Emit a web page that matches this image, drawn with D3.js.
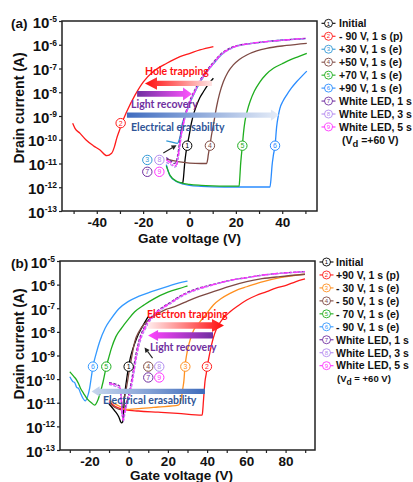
<!DOCTYPE html>
<html><head><meta charset="utf-8">
<script src="https://cdn.jsdelivr.net/npm/d3@7"></script>
<style>
body{margin:0;background:#fff;}
svg{display:block;}
</style></head><body>
<svg id="c" width="413" height="482"></svg>
<script>
// ---------------- DATA ----------------
const yTicks = [1e-13,1e-12,1e-11,1e-10,1e-9,1e-8,1e-7,1e-6,1e-5];
const aXTicks = [-50,-40,-30,-20,-10,0,10,20,30,40,50];
const aXLabels = [-40,-20,0,20,40];
const bXTicks = [-30,-20,-10,0,10,20,30,40,50,60,70,80,90];
const bXLabels = [-20,0,20,40,60,80];

// Panel (a): gate voltage (V) and log10 of drain current (A)
const aVg1 = [-3.6,-3.0,-2.6,-2.3,-2.0,-1.6,-1.0,-0.3,0.95,2.0,3.1,4.5,6.0,8.0,10.3];
const aLog1 = [-11.8,-11.85,-11.6,-11.25,-10.92,-10.6,-10.25,-9.9,-9.24,-8.85,-8.54,-8.22,-7.98,-7.68,-7.41];
const aVg2 = [-50.4,-49.4,-47.2,-44.6,-41.5,-38.6,-35.7,-33.6,-32.4,-31.4,-30.2,-29.2,-27.1,-23.5,-19.9,-15.6,-9.8,-4.1,0.2,4.5,10.3];
const aLog2 = [-9.31,-9.52,-9.73,-10.01,-10.25,-10.43,-10.67,-10.57,-10.3,-9.94,-9.6,-9.31,-8.82,-8.12,-7.56,-7.13,-6.78,-6.50,-6.36,-6.22,-6.08];
const aVg3 = [-10,-7.5,-5.2,-4.6,-4.0,-3.3,-2.4,-1.0,0.4,1.8,3.2,4.7,7.6,10.5,13.4,19,26,33,41,50];
const aLog3 = [-10.05,-10.1,-10.15,-10.05,-9.85,-9.4,-9.1,-8.75,-8.4,-8.1,-7.82,-7.55,-7.13,-6.78,-6.45,-6.1,-5.95,-5.87,-5.8,-5.74];
const aVg4 = [-10,-5,0,5,7.4,7.8,8.1,8.8,9.5,10.3,11.7,13.0,14.6,16.5,18.9,21.5,24.7,29,33.3,41.9,50.6];
const aLog4 = [-10.82,-10.92,-10.98,-11.0,-11.0,-10.85,-10.64,-10.25,-9.8,-9.38,-8.6,-8.05,-7.56,-7.17,-6.85,-6.62,-6.43,-6.26,-6.15,-6.03,-5.94];
const aVg5 = [-10,-8.4,-5.5,0,5,10,15,21.4,21.7,22.0,22.4,22.8,23.3,23.9,25.0,26.1,28.0,30.4,33.0,36.2,40.0,43.4,47.0,50.6];
const aLog5 = [-11.1,-11.5,-11.75,-11.88,-11.92,-11.94,-11.95,-11.95,-11.6,-11.1,-10.64,-10.25,-9.7,-9.24,-8.75,-8.4,-7.95,-7.56,-7.25,-6.99,-6.8,-6.64,-6.5,-6.36];
const aVg6 = [-10,-8.4,-5.5,0,5,10,20,30,34.7,35.2,35.6,36.2,36.9,37.6,38.3,39.0,40.3,41.9,44.0,46.2,48.5,50.6];
const aLog6 = [-11.05,-11.52,-11.77,-11.92,-11.96,-11.98,-11.99,-11.99,-11.99,-11.6,-11.1,-10.64,-10.25,-9.45,-9.0,-8.68,-8.38,-8.12,-7.82,-7.56,-7.32,-7.11];
const aVg7 = [-10,-8,-6.6,-5.8,-5.2,-4.7,-4.3,-3.6,-2.9,-1.4,0,1.4,2.8,4.3,7.2,10.1,13,18.7,26,33,41,50];
const aLog7 = [-10.75,-10.9,-11.0,-10.95,-10.7,-10.4,-10.1,-9.68,-9.33,-8.78,-8.38,-8.08,-7.8,-7.53,-7.11,-6.76,-6.44,-6.09,-5.95,-5.87,-5.8,-5.73];
const aVg8 = [-10,-8,-6.4,-5.5,-4.9,-4.4,-4.0,-3.3,-2.6,-1.1,0.3,1.7,3.1,4.6,7.5,10.4,13.3,19,26,33,41,50];
const aLog8 = [-10.95,-11.05,-11.15,-11.1,-10.8,-10.5,-10.2,-9.72,-9.37,-8.82,-8.42,-8.12,-7.84,-7.57,-7.15,-6.8,-6.47,-6.12,-5.96,-5.88,-5.81,-5.74];
const aVg9 = [-10,-8,-6.5,-5.6,-5.0,-4.5,-4.1,-3.4,-2.7,-1.2,0.2,1.6,3.0,4.5,7.4,10.3,13.2,18.9,26,33,41,50];
const aLog9 = [-10.85,-10.98,-11.1,-11.05,-10.75,-10.45,-10.15,-9.7,-9.35,-8.8,-8.4,-8.1,-7.82,-7.55,-7.13,-6.78,-6.45,-6.1,-5.95,-5.87,-5.8,-5.73];

// Panel (b)
const bVg1 = [-10,-7,-5,-3.7,-3.0,-2.5,-2.0,-1.2,0,1.0,2.2,3.5,4.8,6.5,8.2,9.9];
const bLog1 = [-11.05,-11.35,-11.6,-11.85,-11.8,-11.25,-10.67,-10.11,-9.47,-9.05,-8.70,-8.4,-8.13,-7.85,-7.6,-7.36];
const bVg2 = [-10,-7,-4,-1.5,5,15,25,37.5,37.8,38.1,38.5,38.9,39.5,40.1,41.5,43.0,44.9,48.0,51.7,56.0,60.2,65.0,70.4,75.0,80.6,85.0,89.9];
const bLog2 = [-10.95,-11.15,-11.25,-11.3,-11.35,-11.4,-11.45,-11.52,-11.3,-10.96,-10.5,-10.11,-9.8,-9.47,-8.84,-8.3,-7.85,-7.45,-7.15,-6.88,-6.65,-6.46,-6.30,-6.15,-6.02,-5.88,-5.76];
const bVg3 = [-10,-7,-4,-1.9,5,15,25.3,26.2,27.0,27.6,28.2,28.7,29.5,30.4,31.5,33.0,34.7,36.4,40.0,43.2,47.0,51.7,56.0,60.2,68.6,77.2,89.9];
const bLog3 = [-10.9,-11.05,-11.18,-11.28,-11.25,-11.18,-11.1,-11.0,-10.74,-10.4,-10.04,-9.47,-9.0,-8.63,-8.3,-7.95,-7.75,-7.57,-7.2,-6.86,-6.6,-6.37,-6.2,-6.09,-5.87,-5.70,-5.56];
const bVg4 = [-10,-7,-3.7,-2.5,-1.2,0.5,1.8,3.1,5.5,8.2,11.5,15,19,23.5,26.2,30,36,43.2,51,60.2,68,77.2,89.9];
const bLog4 = [-11.0,-11.2,-11.3,-10.9,-10.39,-9.54,-8.95,-8.42,-7.95,-7.65,-7.4,-7.22,-7.05,-6.93,-6.84,-6.7,-6.5,-6.3,-6.08,-5.87,-5.75,-5.66,-5.56];
const bVg5 = [-30,-28,-26.5,-25.5,-24.5,-23,-21,-19,-17.3,-16,-14.8,-13,-11.4,-10,-8.8,-6.5,-3.7,0,3.1,8,13.3,20,28.6,30];
const bLog5 = [-9.69,-9.88,-10.04,-10.2,-10.4,-10.6,-10.85,-11.0,-11.1,-10.95,-10.67,-10.1,-9.47,-9.05,-8.70,-8.2,-7.85,-7.45,-7.15,-6.85,-6.58,-6.32,-6.09,-6.05];
const bVg6 = [-30,-28.5,-27.5,-26.5,-25.5,-24.5,-23.3,-22.1,-21,-19.9,-19,-18.2,-16.5,-14.8,-12,-8.8,-5,-0.3,5,11.6,20,28.6,30];
const bLog6 = [-9.90,-10.1,-10.15,-10.35,-10.4,-10.6,-10.81,-10.92,-10.75,-10.39,-9.9,-9.47,-8.9,-8.42,-7.85,-7.43,-7.02,-6.72,-6.5,-6.30,-6.07,-5.87,-5.85];
const bVg7 = [-10,-7,-4.5,-3.9,-3.4,-2.9,-2.3,-1.3,0.3,2.0,3.7,5.0,6.3,8.3,10.5,12.8,14.8,17.8,21.6,25.8,29.8,34.5,43,51,60.2,68,77.2,89.9];
const bLog7 = [-10.15,-10.2,-10.3,-10.7,-11.4,-11.65,-11.45,-11.05,-10.55,-9.8,-8.95,-8.45,-8.1,-7.75,-7.47,-7.27,-7.1,-6.93,-6.73,-6.5,-6.33,-6.18,-5.99,-5.83,-5.70,-5.6,-5.52,-5.45];
const bVg8 = [-10,-7,-4.4,-3.7,-3.2,-2.7,-2.1,-1.1,0.7,2.4,4.1,5.4,6.7,8.7,10.9,13.2,15.2,18.2,22,26.2,30.2,34.9,43.4,51,60.2,68,77.2,89.9];
const bLog8 = [-10.22,-10.3,-10.4,-10.85,-11.55,-11.8,-11.55,-11.15,-10.65,-9.9,-9.05,-8.55,-8.2,-7.85,-7.53,-7.33,-7.15,-6.97,-6.77,-6.54,-6.37,-6.22,-6.01,-5.84,-5.71,-5.61,-5.53,-5.46];
const bVg9 = [-10,-7,-4.5,-3.8,-3.3,-2.8,-2.2,-1.2,0.5,2.2,3.9,5.2,6.5,8.5,10.7,13,15,18,21.8,26,30,34.7,43.2,51,60.2,68,77.2,89.9];
const bLog9 = [-10.18,-10.25,-10.35,-10.8,-11.5,-11.75,-11.5,-11.1,-10.6,-9.85,-9.0,-8.5,-8.15,-7.8,-7.5,-7.3,-7.12,-6.95,-6.75,-6.52,-6.35,-6.2,-6.0,-5.83,-5.70,-5.6,-5.52,-5.45];

const aLegend = ["Initial","- 90 V, 1 s (p)","+30 V, 1 s (e)","+50 V, 1 s (e)","+70 V, 1 s (e)","+90 V, 1 s (e)","White LED, 1 s","White LED, 3 s","White LED, 5 s"];
const bLegend = ["Initial","+90 V, 1 s (p)","- 30 V, 1 s (e)","- 50 V, 1 s (e)","- 70 V, 1 s (e)","- 90 V, 1 s (e)","White LED, 1 s","White LED, 3 s","White LED, 5 s"];

// numbered circle labels on the curves
const aMarkN = [2,1,4,5,6,3,8,7,9];
const aMarkVg = [-29.7,-1.0,8.8,22.8,36.9,-18.2,-13.0,-18.2,-13.0];
const aMarkLog = [-9.3,-10.25,-10.25,-10.25,-10.25,-10.85,-10.85,-11.35,-11.35];
const bMarkN = [6,5,1,4,8,3,2,7,9];
const bMarkVg = [-18.2,-11.4,0.0,10.0,15.6,28.9,39.9,10.0,15.6];
const bMarkLog = [-9.47,-9.47,-9.47,-9.47,-9.47,-9.47,-9.47,-9.93,-9.93];

// annotations (data coordinates)
const aNotes = ["Hole trapping","Light recovery","Electrical erasability"];
const aNoteVg = [-19.2,-25.2,-25.2];
const aNoteLog = [-7.27,-8.68,-9.65];
const bNotes = ["Electron trapping","Light recovery","Electrical erasability"];
const bNoteVg = [9.35,10.9,-13.1];
const bNoteLog = [-7.43,-8.79,-11.07];
// arrows: tail Vg, tip Vg, log current
const aArrowTail = [9.7,-22.6,-27.0];
const aArrowTip = [-19.2,1.1,38.6];
const aArrowLog = [-7.63,-8.07,-8.96];
const bArrowTail = [9.9,43.0,38.9];
const bArrowTip = [48.6,9.9,-18.9];
const bArrowLog = [-7.73,-8.15,-10.52];
const aPointer = [[-11.3,-10.56],[-5.6,-10.23]];
const bPointer = [[12.2,-9.11],[8.1,-8.66]];

// ---------------- DRAWING ----------------
const FONT = "'Liberation Sans', Arial, Helvetica, sans-serif";
const NOTEFONT = "Lato, 'Open Sans', sans-serif";
const colA = {1:"#000000",2:"#ff1a1a",3:"#3399d6",4:"#7e4a44",5:"#1fae1f",6:"#2a8cff",7:"#7030a0",8:"#b38bef",9:"#ff33ff"};
const colB = Object.assign({}, colA, {3:"#ff9020",6:"#3399ff"});
const dashes = {7:"3,1.5",8:"3,1.5",9:"6,1.5,1.5,1.5"};

const svg = d3.select("#c");
const defs = svg.append("defs");
function gradient(id, c0, c1) {
  const g = defs.append("linearGradient").attr("id", id)
    .attr("x1","0").attr("x2","1").attr("y1","0").attr("y2","0");
  g.append("stop").attr("offset","0").attr("stop-color",c0);
  g.append("stop").attr("offset","1").attr("stop-color",c1);
}
gradient("ga0","#ff0d0d","#ffe4e4");
gradient("ga1","#7030a0","#ff55ff");
gradient("ga2","#3f6cc0","#e6edf8");
gradient("gb0","#ffecec","#ff0d0d");
gradient("gb1","#ff44ff","#7030a0");
gradient("gb2","#c8d7ee","#3f6cbc");

function drawPanel(p) {
  const x = d3.scaleLinear().domain(p.xDomain).range([p.L, p.R]);
  const y = d3.scaleLog().domain([1e-13, 1e-5]).range([p.B, p.T]);
  const g = svg.append("g");
  defs.append("clipPath").attr("id","clip"+p.id).append("rect")
    .attr("x",p.L).attr("y",p.T).attr("width",p.R-p.L).attr("height",p.B-p.T);

  // curves
  const line = d3.line().x(d => x(d[0])).y(d => y(d[1])).curve(d3.curveMonotoneX);
  const cg = g.append("g").attr("clip-path","url(#clip"+p.id+")");
  p.curves.forEach(c => {
    const pts = d3.zip(c.vg, c.log.map(v => Math.pow(10, v)));
    cg.append("path").attr("d", line(pts)).attr("fill","none")
      .attr("stroke", p.col[c.n]).attr("stroke-width", 1.3)
      .attr("stroke-dasharray", dashes[c.n] || null)
      .attr("stroke-linejoin","round");
  });

  // arrows
  p.arrows.forEach((a, i) => {
    const x0 = x(a.tail), x1 = x(a.tip), yc = y(Math.pow(10, a.log));
    const dir = Math.sign(x1 - x0), h = a.h, H = a.H, L = a.L;
    const pts = [[x0,yc-h],[x1-dir*L,yc-h],[x1-dir*L,yc-H],[x1,yc],[x1-dir*L,yc+H],[x1-dir*L,yc+h],[x0,yc+h]];
    g.append("path").attr("d", "M" + pts.map(q => q.join(",")).join("L") + "Z")
      .attr("fill", "url(#" + a.grad + ")");
  });
  // notes
  p.notes.forEach(nt => {
    g.append("text").attr("x", x(nt.vg)).attr("y", y(Math.pow(10, nt.log)))
      .attr("font-family", NOTEFONT).attr("font-weight", 700).attr("font-size", 10.5)
      .attr("fill", nt.color).text(nt.text);
  });
  // pointer arrow
  {
    const [s, e] = p.pointer;
    const xs = x(s[0]), ys = y(Math.pow(10, s[1])), xe = x(e[0]), ye = y(Math.pow(10, e[1]));
    const ang = Math.atan2(ye - ys, xe - xs), hl = 5, hw = 2.6;
    const bx = xe - hl * Math.cos(ang), by = ye - hl * Math.sin(ang);
    g.append("line").attr("x1", xs).attr("y1", ys).attr("x2", bx).attr("y2", by)
      .attr("stroke", "#222").attr("stroke-width", 1.1);
    const px = -Math.sin(ang), py = Math.cos(ang);
    g.append("path").attr("d", `M${xe},${ye}L${bx+px*hw},${by+py*hw}L${bx-px*hw},${by-py*hw}Z`).attr("fill", "#222");
  }
  // numbered circles
  p.marks.forEach(m => {
    const cx = x(m.vg), cy = y(Math.pow(10, m.log));
    g.append("circle").attr("cx", cx).attr("cy", cy).attr("r", 4.7)
      .attr("fill", "#fff").attr("stroke", p.col[m.n]).attr("stroke-width", 1);
    g.append("text").attr("x", cx).attr("y", cy + 2.5).attr("text-anchor", "middle")
      .attr("font-family", FONT).attr("font-size", 7).attr("fill", p.col[m.n]).text(m.n);
  });

  // frame
  g.append("rect").attr("x", p.L).attr("y", p.T).attr("width", p.R - p.L).attr("height", p.B - p.T)
    .attr("fill", "none").attr("stroke", "#222").attr("stroke-width", 1.5);

  // x axis
  const xa = g.append("g").attr("transform", `translate(0,${p.B})`)
    .call(d3.axisBottom(x).tickValues(p.xTicks).tickSize(3).tickPadding(3)
      .tickFormat(d => p.xLabels.includes(d) ? (d < 0 ? "-" + Math.abs(d) : String(d)) : ""));
  xa.select(".domain").remove();
  xa.attr("font-family", FONT).attr("font-size", 13.5).attr("font-weight", "bold");
  xa.selectAll("line").attr("stroke", "#222").attr("stroke-width", 1.2);
  xa.selectAll("text").attr("fill", "#111");

  // y axis
  const ya = g.append("g").attr("transform", `translate(${p.L},0)`)
    .call(d3.axisLeft(y).tickValues(yTicks).tickSize(3).tickFormat(""));
  ya.select(".domain").remove();
  ya.selectAll("line").attr("stroke", "#222").attr("stroke-width", 1.2);
  yTicks.forEach(t => {
    const e = Math.round(Math.log10(t));
    const tx = g.append("text").attr("x", p.L - 5).attr("y", y(t) + 6.5)
      .attr("text-anchor", "end").attr("font-family", FONT).attr("font-weight", "bold").attr("fill", "#111");
    tx.append("tspan").attr("font-size", 15).text("10");
    tx.append("tspan").attr("font-size", 8.5).attr("dy", -5.5).text(String(e));
  });

  // titles
  g.append("text").attr("transform", `translate(${p.yTitleX},${p.yTitleY}) rotate(-90)`)
    .attr("text-anchor", "middle").attr("font-family", FONT).attr("font-weight", "bold")
    .attr("font-size", 14).attr("fill", "#111").text("Drain current (A)");
  g.append("text").attr("x", p.xTitleX).attr("y", p.xTitleY).attr("text-anchor", "middle")
    .attr("font-family", FONT).attr("font-weight", "bold").attr("font-size", 13.5)
    .attr("fill", "#111").text("Gate voltage (V)");
  g.append("text").attr("x", 11).attr("y", p.T + 6.5).attr("font-family", FONT)
    .attr("font-weight", "bold").attr("font-size", 13.5).attr("fill", "#111").text(p.tag);

  // legend
  p.legend.forEach((lab, i) => {
    const n = i + 1, cy = p.legY + i * 12.96, lx = p.legX;
    g.append("line").attr("x1", lx).attr("x2", lx + 14).attr("y1", cy).attr("y2", cy)
      .attr("stroke", p.col[n]).attr("stroke-width", 1.1);
    g.append("circle").attr("cx", lx + 7).attr("cy", cy).attr("r", 4)
      .attr("fill", "#fff").attr("stroke", p.col[n]).attr("stroke-width", 0.9);
    g.append("text").attr("x", lx + 7).attr("y", cy + 2.2).attr("text-anchor", "middle")
      .attr("font-family", FONT).attr("font-size", 6).attr("fill", p.col[n]).text(n);
    g.append("text").attr("x", p.legTextX).attr("y", cy + 3.8).attr("font-family", FONT)
      .attr("font-weight", "bold").attr("font-size", 10.5).attr("fill", "#111").text(lab);
  });
  const vy = p.legY + 9 * 12.96 + 3.8;
  const vt = g.append("text").attr("x", p.legTextX + p.vdDx).attr("y", vy).attr("font-family", FONT)
    .attr("font-weight", "bold").attr("font-size", p.vdSize).attr("fill", "#111");
  vt.append("tspan").text("(V");
  vt.append("tspan").attr("dy", 3).attr("font-size", p.vdSize * 0.9).text("d");
  vt.append("tspan").attr("dy", -3).text(p.vdText);
}

drawPanel({
  id: "a", tag: "(a)", L: 62, R: 317, T: 21, B: 211, xDomain: [-55, 55],
  xTicks: aXTicks, xLabels: aXLabels, col: colA,
  yTitleX: 23.5, yTitleY: 108, xTitleX: 189.5, xTitleY: 242.5,
  curves: [
    {n:2, vg:aVg2, log:aLog2}, {n:1, vg:aVg1, log:aLog1}, {n:4, vg:aVg4, log:aLog4},
    {n:6, vg:aVg6, log:aLog6}, {n:5, vg:aVg5, log:aLog5}, {n:3, vg:aVg3, log:aLog3},
    {n:7, vg:aVg7, log:aLog7}, {n:8, vg:aVg8, log:aLog8}, {n:9, vg:aVg9, log:aLog9}
  ],
  arrows: [
    {tail:aArrowTail[0], tip:aArrowTip[0], log:aArrowLog[0], h:2.6, H:6.2, L:12, grad:"ga0"},
    {tail:aArrowTail[1], tip:aArrowTip[1], log:aArrowLog[1], h:2.8, H:6.5, L:9, grad:"ga1"},
    {tail:aArrowTail[2], tip:aArrowTip[2], log:aArrowLog[2], h:2.6, H:5.6, L:8, grad:"ga2"}
  ],
  notes: [
    {text:aNotes[0], vg:aNoteVg[0], log:aNoteLog[0], color:"#ff1010"},
    {text:aNotes[1], vg:aNoteVg[1], log:aNoteLog[1], color:"#7030a0"},
    {text:aNotes[2], vg:aNoteVg[2], log:aNoteLog[2], color:"#2f5597"}
  ],
  pointer: aPointer,
  marks: aMarkN.map((n, i) => ({n, vg: aMarkVg[i], log: aMarkLog[i]})),
  legend: aLegend, legX: 321.5, legY: 23.3, legTextX: 339, vdDx: 3, vdSize: 10.5, vdText: " =+60 V)"
});

drawPanel({
  id: "b", tag: "(b)", L: 60, R: 315, T: 261, B: 450, xDomain: [-35, 95],
  xTicks: bXTicks, xLabels: bXLabels, col: colB,
  yTitleX: 23.5, yTitleY: 344, xTitleX: 181.5, xTitleY: 480,
  curves: [
    {n:6, vg:bVg6, log:bLog6}, {n:5, vg:bVg5, log:bLog5}, {n:1, vg:bVg1, log:bLog1},
    {n:2, vg:bVg2, log:bLog2}, {n:3, vg:bVg3, log:bLog3}, {n:4, vg:bVg4, log:bLog4},
    {n:7, vg:bVg7, log:bLog7}, {n:8, vg:bVg8, log:bLog8}, {n:9, vg:bVg9, log:bLog9}
  ],
  arrows: [
    {tail:bArrowTail[0], tip:bArrowTip[0], log:bArrowLog[0], h:3.2, H:6.5, L:12, grad:"gb0"},
    {tail:bArrowTail[1], tip:bArrowTip[1], log:bArrowLog[1], h:3.2, H:5.5, L:10, grad:"gb1"},
    {tail:bArrowTail[2], tip:bArrowTip[2], log:bArrowLog[2], h:2.6, H:5.2, L:8, grad:"gb2"}
  ],
  notes: [
    {text:bNotes[0], vg:bNoteVg[0], log:bNoteLog[0], color:"#ff1010"},
    {text:bNotes[1], vg:bNoteVg[1], log:bNoteLog[1], color:"#7030a0"},
    {text:bNotes[2], vg:bNoteVg[2], log:bNoteLog[2], color:"#2f5597"}
  ],
  pointer: bPointer,
  marks: bMarkN.map((n, i) => ({n, vg: bMarkVg[i], log: bMarkLog[i]})),
  legend: bLegend, legX: 319.5, legY: 262, legTextX: 336, vdDx: 1, vdSize: 9.5, vdText: " = +60 V)"
});
</script>
</body></html>
